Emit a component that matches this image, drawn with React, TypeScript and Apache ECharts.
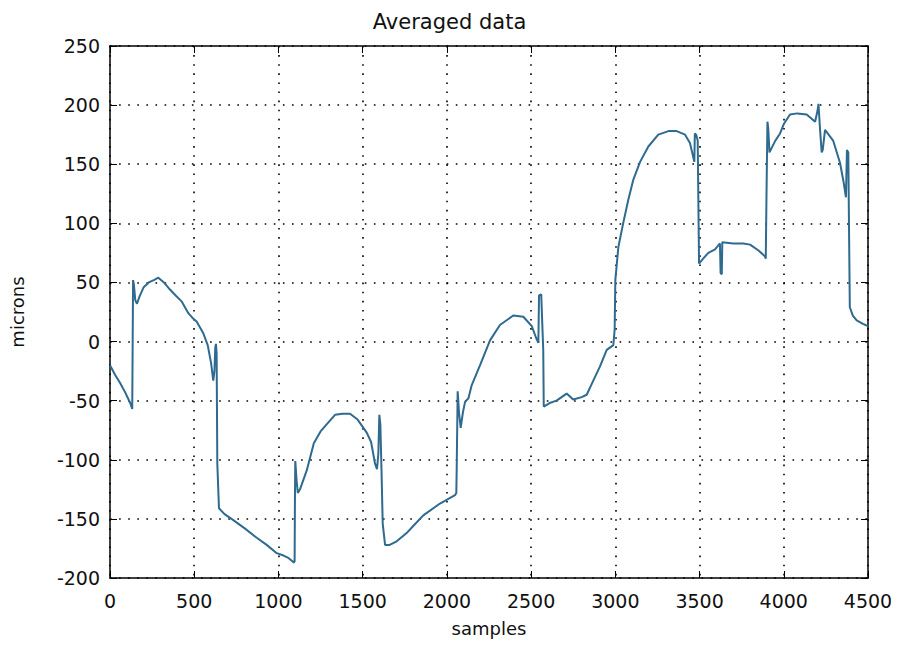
import React, { useEffect, useRef } from "react";
import * as echarts from "echarts";

const TITLE = "Averaged data";
const X_NAME = "samples";
const Y_NAME = "microns";

const samples: number[] = [
  0, 30, 60, 90, 120, 132, 134, 137, 142, 150, 160, 175, 200, 230, 260, 287, 320, 356, 390, 425,
  465, 490, 514, 554, 580, 600, 613, 620, 625, 629, 633, 637, 647, 680, 732, 800, 871, 930, 990, 1030,
  1059, 1085, 1090, 1096, 1098, 1100, 1108, 1115, 1128, 1168, 1210, 1250, 1286, 1336, 1380, 1425, 1470, 1524, 1550, 1573,
  1585, 1593, 1599, 1605, 1612, 1619, 1633, 1660, 1702, 1761, 1800, 1860, 1959, 2048, 2056, 2058, 2064, 2072, 2082, 2095,
  2108, 2128, 2147, 2197, 2256, 2315, 2394, 2454, 2504, 2530, 2543, 2547, 2560, 2565, 2572, 2575, 2610, 2651, 2711, 2750,
  2800, 2830, 2869, 2909, 2949, 2988, 2996, 3000, 3018, 3048, 3077, 3107, 3147, 3196, 3255, 3315, 3364, 3414, 3443, 3469,
  3472, 3480, 3489, 3497, 3520, 3552, 3592, 3621, 3625, 3632, 3635, 3700, 3760, 3800, 3850, 3889, 3893, 3898, 3903, 3908,
  3915, 3950, 3978, 4000, 4037, 4080, 4136, 4186, 4200, 4206, 4215, 4225, 4231, 4245, 4293, 4334, 4355, 4369, 4375, 4383,
  4387, 4392, 4410, 4433, 4470, 4500,
];

const microns: number[] = [
  -20, -28, -35, -43, -52, -57, -13, 52, 48, 35, 32, 38, 46, 50, 52, 54, 50, 44, 39, 34,
  24, 20, 17, 7, -3, -18, -33, -25, -5, -2, -10, -103, -141, -146, -151, -158, -166, -172, -179, -181,
  -183, -186, -187, -186, -131, -101, -118, -128, -125, -109, -86, -76, -70, -62, -61, -61, -66, -77, -85, -103,
  -108, -95, -62, -70, -110, -154, -172, -172, -169, -162, -156, -147, -137, -130, -128, -110, -42, -60, -73, -60,
  -51, -48, -37, -20, 1, 14, 22, 21, 13, 3, -1, 39, 40, 20, -7, -55, -52, -50, -44, -49,
  -47, -45, -33, -21, -7, -3, 10, 52, 80, 101, 120, 137, 152, 165, 175, 178, 178, 175, 168, 152,
  176, 175, 170, 66, 70, 75, 78, 83, 58, 57, 84, 83, 83, 82, 77, 72, 70, 131, 186, 180,
  160, 170, 176, 184, 192, 193, 192, 186, 195, 201, 180, 160, 162, 179, 170, 151, 135, 122, 162, 160,
  100, 29, 22, 18, 15, 13,
];

const FONT = "DejaVu Sans";

export default function App() {
  const ref = useRef<HTMLDivElement>(null);
  useEffect(() => {
    if (!ref.current) return;
    const chart = echarts.init(ref.current, undefined, { renderer: "svg" });
    const data = samples.map((s, i) => [s, microns[i]]);
    const dotted = { color: "#000", width: 1.6, type: [1.6, 7.5] as number[] };
    const plain = (v: number) => String(v);
    chart.setOption({
      animation: false,
      backgroundColor: "#fff",
      title: {
        text: TITLE,
        left: "center",
        top: 0,
        padding: [3, 5],
        textStyle: { fontFamily: FONT, fontSize: 21, fontWeight: "normal", color: "#111" },
      },
      grid: { left: 102, right: 23, top: 38, bottom: 68, outerBoundsMode: "none", containLabel: false },
      xAxis: [
        {
          type: "value",
          min: 0,
          max: 4500,
          interval: 500,
          name: X_NAME,
          nameLocation: "middle",
          nameGap: 41,
          nameTextStyle: { fontFamily: FONT, fontSize: 18, color: "#111" },
          axisLine: { onZero: false, lineStyle: { color: "#000", width: 1.5 } },
          axisTick: { inside: true, length: 7, lineStyle: { color: "#000" } },
          axisLabel: { fontFamily: FONT, fontSize: 19, color: "#111", margin: 13, formatter: plain },
          splitLine: { show: true, lineStyle: dotted },
        },
        {
          type: "value",
          position: "top",
          min: 0,
          max: 4500,
          interval: 500,
          axisLine: { show: true, onZero: false, lineStyle: { color: "#000", width: 1.5 } },
          axisTick: { show: true, inside: true, length: 7, lineStyle: { color: "#000" } },
          axisLabel: { show: false },
          splitLine: { show: false },
        },
      ],
      yAxis: [
        {
          type: "value",
          min: -200,
          max: 250,
          interval: 50,
          name: Y_NAME,
          nameLocation: "middle",
          nameGap: 84,
          nameRotate: 90,
          nameTextStyle: { fontFamily: FONT, fontSize: 18, color: "#111" },
          axisLine: { show: true, onZero: false, lineStyle: { color: "#000", width: 1.5 } },
          axisTick: { show: true, inside: true, length: 7, lineStyle: { color: "#000" } },
          axisLabel: { fontFamily: FONT, fontSize: 19, color: "#111", margin: 10, formatter: plain },
          splitLine: { show: true, lineStyle: dotted },
        },
        {
          type: "value",
          position: "right",
          min: -200,
          max: 250,
          interval: 50,
          axisLine: { show: true, onZero: false, lineStyle: { color: "#000", width: 1.5 } },
          axisTick: { show: true, inside: true, length: 7, lineStyle: { color: "#000" } },
          axisLabel: { show: false },
          splitLine: { show: false },
        },
      ],
      series: [
        {
          type: "line",
          data,
          showSymbol: false,
          symbol: "none",
          lineStyle: { color: "#2f6a8f", width: 2 },
        },
      ],
    });
    return () => chart.dispose();
  }, []);
  return <div ref={ref} style={{ width: 883, height: 638 }} />;
}
